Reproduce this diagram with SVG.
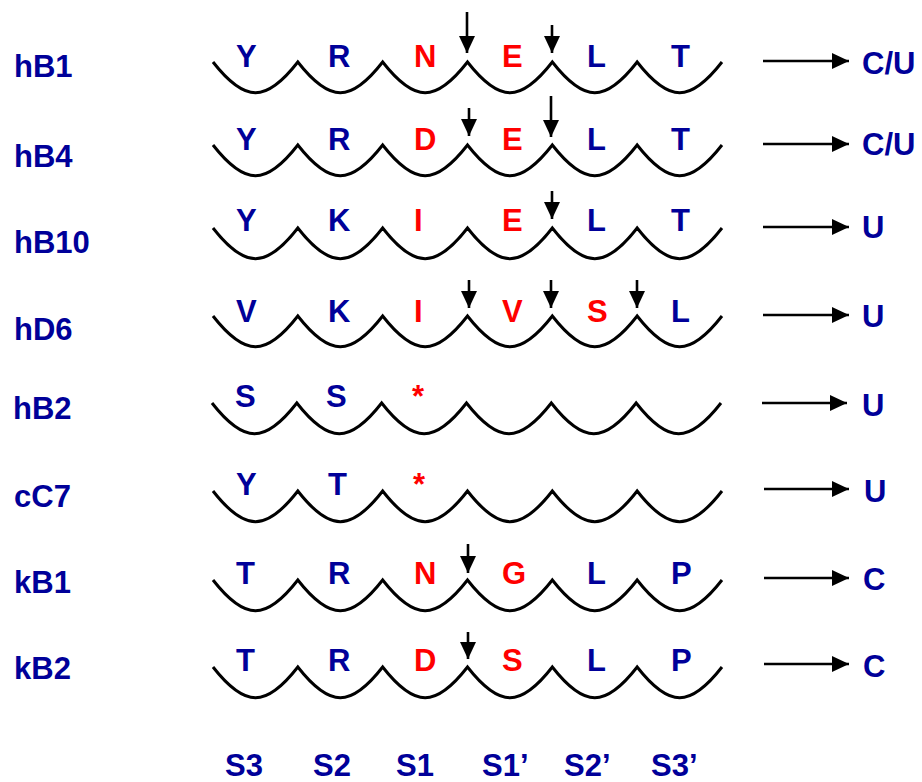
<svg xmlns="http://www.w3.org/2000/svg" width="922" height="782" viewBox="0 0 922 782">
<style>
text{font-family:"Liberation Sans",Arial,sans-serif;font-weight:bold;font-size:31px}
.b{fill:#000099}
.r{fill:#ff0000}
.w{fill:none;stroke:#000;stroke-width:3;stroke-linejoin:miter}
.a{stroke:#000;stroke-width:2.6;fill:none}
</style>
<defs>
<path id="wave" d="M213,0 c32,41 53,41 84.83,0 c32,41 53,41 84.83,0 c32,41 53,41 84.83,0 c32,41 53,41 84.83,0 c32,41 53,41 84.83,0 c32,41 53,41 84.83,0"/>
<marker id="ah" viewBox="0 0 17 16" refX="17" refY="8" markerWidth="17" markerHeight="16" markerUnits="userSpaceOnUse" orient="auto">
<path d="M0,0 L17,8 L0,16 z" fill="#000"/>
</marker>
</defs>
<rect width="922" height="782" fill="#fff"/>

<g id="row-hB1">
<text class="b" x="14" y="77">hB1</text>
<use href="#wave" class="w" transform="translate(0,62)"/>
<text class="b" x="236" y="67">Y</text><text class="b" x="328" y="67">R</text><text class="r" x="414" y="67">N</text><text class="r" x="502" y="67">E</text><text class="b" x="587" y="67">L</text><text class="b" x="671" y="67">T</text>
<text class="b" x="862" y="74">C/U</text>
</g>
<g id="row-hB4">
<text class="b" x="14" y="167">hB4</text>
<use href="#wave" class="w" transform="translate(0,145)"/>
<text class="b" x="236" y="150">Y</text><text class="b" x="328" y="150">R</text><text class="r" x="414" y="150">D</text><text class="r" x="502" y="150">E</text><text class="b" x="587" y="150">L</text><text class="b" x="671" y="150">T</text>
<text class="b" x="862" y="155">C/U</text>
</g>
<g id="row-hB10">
<text class="b" x="14" y="253">hB10</text>
<use href="#wave" class="w" transform="translate(0,228)"/>
<text class="b" x="236" y="231">Y</text><text class="b" x="328" y="231">K</text><text class="r" x="414" y="231">I</text><text class="r" x="502" y="231">E</text><text class="b" x="587" y="231">L</text><text class="b" x="671" y="231">T</text>
<text class="b" x="862" y="238">U</text>
</g>
<g id="row-hD6">
<text class="b" x="14" y="340">hD6</text>
<use href="#wave" class="w" transform="translate(0,316)"/>
<text class="b" x="236" y="322">V</text><text class="b" x="328" y="322">K</text><text class="r" x="414" y="322">I</text><text class="r" x="502" y="322">V</text><text class="r" x="587" y="322">S</text><text class="b" x="671" y="322">L</text>
<text class="b" x="862" y="327">U</text>
</g>
<g id="row-hB2">
<text class="b" x="13" y="419">hB2</text>
<use href="#wave" class="w" transform="translate(-1,403)"/>
<text class="b" x="235" y="407">S</text><text class="b" x="326" y="407">S</text><text class="r" x="412" y="407">*</text>
<text class="b" x="862" y="416">U</text>
</g>
<g id="row-cC7">
<text class="b" x="14" y="507">cC7</text>
<use href="#wave" class="w" transform="translate(0,491)"/>
<text class="b" x="236" y="495">Y</text><text class="b" x="328" y="495">T</text><text class="r" x="413" y="495">*</text>
<text class="b" x="864" y="502">U</text>
</g>
<g id="row-kB1">
<text class="b" x="14" y="593">kB1</text>
<use href="#wave" class="w" transform="translate(0,580)"/>
<text class="b" x="236" y="584">T</text><text class="b" x="328" y="584">R</text><text class="r" x="414" y="584">N</text><text class="r" x="502" y="584">G</text><text class="b" x="587" y="584">L</text><text class="b" x="671" y="584">P</text>
<text class="b" x="863" y="590">C</text>
</g>
<g id="row-kB2">
<text class="b" x="14" y="679">kB2</text>
<use href="#wave" class="w" transform="translate(0,667)"/>
<text class="b" x="236" y="671">T</text><text class="b" x="328" y="671">R</text><text class="r" x="414" y="671">D</text><text class="r" x="502" y="671">S</text><text class="b" x="587" y="671">L</text><text class="b" x="671" y="671">P</text>
<text class="b" x="863" y="677">C</text>
</g>

<g id="subsites">
<text class="b" x="225" y="776">S3</text>
<text class="b" x="313" y="776">S2</text>
<text class="b" x="396" y="776">S1</text>
<text class="b" x="482" y="776">S1’</text>
<text class="b" x="564" y="776">S2’</text>
<text class="b" x="651" y="776">S3’</text>
</g>

<g id="connectors">
<line class="a" x1="467" y1="12" x2="467" y2="53" marker-end="url(#ah)"/>
<line class="a" x1="552" y1="25" x2="552" y2="53" marker-end="url(#ah)"/>
<line class="a" x1="469" y1="108" x2="469" y2="136" marker-end="url(#ah)"/>
<line class="a" x1="551" y1="96" x2="551" y2="137" marker-end="url(#ah)"/>
<line class="a" x1="552" y1="191" x2="552" y2="219" marker-end="url(#ah)"/>
<line class="a" x1="469" y1="280" x2="469" y2="308" marker-end="url(#ah)"/>
<line class="a" x1="551" y1="280" x2="551" y2="308" marker-end="url(#ah)"/>
<line class="a" x1="637" y1="280" x2="637" y2="308" marker-end="url(#ah)"/>
<line class="a" x1="468" y1="544" x2="468" y2="573" marker-end="url(#ah)"/>
<line class="a" x1="468" y1="632" x2="468" y2="659" marker-end="url(#ah)"/>
<line class="a" x1="763" y1="61" x2="849" y2="61" marker-end="url(#ah)"/>
<line class="a" x1="763" y1="144" x2="849" y2="144" marker-end="url(#ah)"/>
<line class="a" x1="763" y1="227" x2="849" y2="227" marker-end="url(#ah)"/>
<line class="a" x1="763" y1="315" x2="849" y2="315" marker-end="url(#ah)"/>
<line class="a" x1="762" y1="403" x2="847" y2="403" marker-end="url(#ah)"/>
<line class="a" x1="764" y1="489" x2="849" y2="489" marker-end="url(#ah)"/>
<line class="a" x1="764" y1="578" x2="849" y2="578" marker-end="url(#ah)"/>
<line class="a" x1="764" y1="664" x2="849" y2="664" marker-end="url(#ah)"/>
</g>
</svg>
